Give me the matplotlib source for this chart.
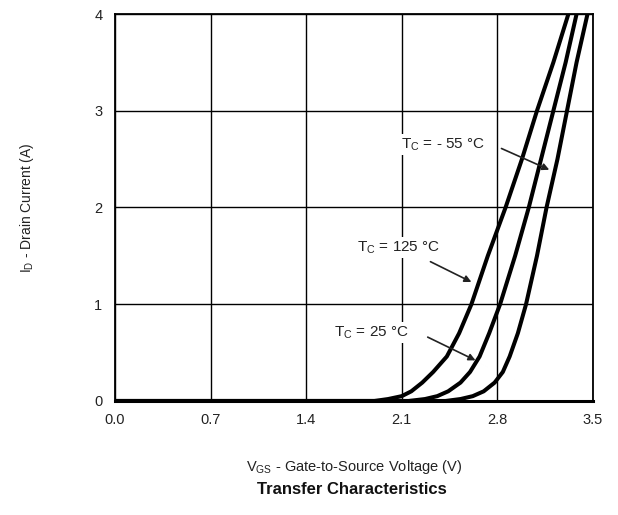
import numpy as np
import matplotlib
matplotlib.use('Agg')
import matplotlib.pyplot as plt

#==========Data (I_D in A, V_GS in V)==========
i_d = [0.0, 0.02, 0.05, 0.1, 0.19, 0.3, 0.46, 0.7, 1.0, 1.5, 2.0, 2.5, 3.0, 3.5, 4.0]
vgs_125 = [1.9, 2.0, 2.1, 2.17, 2.25, 2.33, 2.43, 2.52, 2.61, 2.73, 2.86, 2.98, 3.09, 3.21, 3.32]
vgs_25 = [2.15, 2.27, 2.36, 2.44, 2.53, 2.60, 2.67, 2.74, 2.82, 2.93, 3.03, 3.12, 3.21, 3.30, 3.38]
vgs_m55 = [2.42, 2.53, 2.62, 2.70, 2.78, 2.84, 2.89, 2.95, 3.01, 3.09, 3.16, 3.24, 3.31, 3.38, 3.46]

x_ticks = [0.0, 0.7, 1.4, 2.1, 2.8, 3.5]
y_ticks = [0, 1, 2, 3, 4]

plt.rcParams['font.family'] = ['Liberation Sans', 'DejaVu Sans']
plt.rcParams['mathtext.fontset'] = 'custom'
plt.rcParams['mathtext.rm'] = 'Liberation Sans'

#==========Figure & axis==========
fig = plt.figure(figsize=(6.18, 5.15), dpi=100)
ax = fig.add_axes([0.186, 0.2214, 0.7735, 0.7514])

for v in (vgs_125, vgs_25, vgs_m55):
    ax.plot([0.0] + v, [0.0] + i_d, color='black', lw=2.9, solid_joinstyle='round', zorder=3)

ax.set_xlim(0, 3.5)
ax.set_ylim(0, 4)
ax.set_xticks(x_ticks)
ax.set_xticklabels(['%.1f' % t for t in x_ticks])
ax.set_yticks(y_ticks)
ax.grid(True, color='black', lw=1.0)
ax.tick_params(length=0, labelsize=10.5, colors='#222222', pad=9)
for s in ax.spines.values():
    s.set_linewidth(1.3)
ax.spines['bottom'].set_linewidth(2.2)

ax.set_ylabel(r'I$_\mathregular{D}$ - Drain Current (A)', fontsize=10, color='#222222', labelpad=42)
ax.set_xlabel(r'V$_\mathregular{GS}$ - Gate-to-Source Voltage (V)', fontsize=10.5, color='#222222', labelpad=22)
fig.text(0.57, 0.04, 'Transfer Characteristics', ha='center', fontsize=12, fontweight='bold', color='#111111')

#==========Curve labels with arrows==========
labels = [
    (r'T$_\mathregular{C}$ = - 55 °C', (2.40, 2.65), (2.83, 2.61), (3.18, 2.39)),
    (r'T$_\mathregular{C}$ = 125 °C', (2.08, 1.59), (2.31, 1.44), (2.61, 1.23)),
    (r'T$_\mathregular{C}$ = 25 °C', (1.88, 0.71), (2.29, 0.66), (2.64, 0.42)),
]
for txt, pos, start, end in labels:
    ax.text(pos[0], pos[1], txt, ha='center', va='center', fontsize=11, color='#222222', zorder=4,
            bbox=dict(facecolor='white', edgecolor='none', pad=1.5))
    ax.annotate('', xy=end, xytext=start, zorder=5,
                arrowprops=dict(arrowstyle='-|>', color='#222222', lw=1.2, mutation_scale=10, shrinkA=0, shrinkB=0))

fig.savefig('out.png', dpi=100)
